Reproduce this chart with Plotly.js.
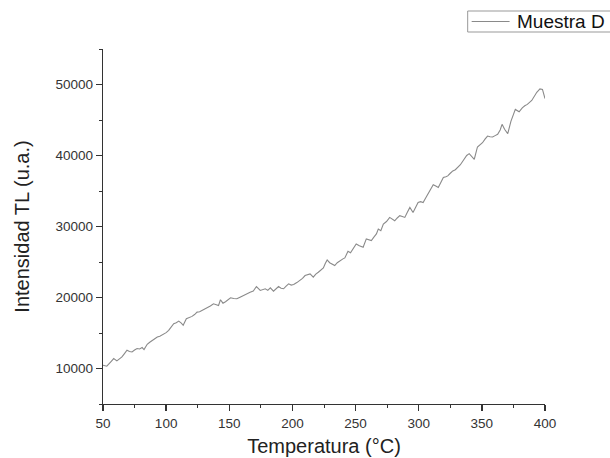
<!DOCTYPE html>
<html>
<head>
<meta charset="utf-8">
<script src="https://cdn.plot.ly/plotly-3.0.1.min.js"></script>
<style>html,body{margin:0;padding:0;background:#fff;}#chart{width:610px;height:458px;}</style>
</head>
<body>
<div id="chart"></div>
<script>
var seriesName = "Muestra D";
var temperatura = [50,53,56,58.5,61,63,65,67,69,71,73,75,77,79,81,82.5,85,87,89,91,93,95,98,100,102,104,106,108,110,112,113.5,116,118,120.5,122.5,124.5,126.5,128.5,130.5,132.5,135,137.5,139.5,141.5,143,145,147,149.5,151,153.5,156,158.5,161,164,166.5,169,171.5,174.5,176.5,178.5,180.5,182.5,185,187,189,191,193,195,197,199,201,203.5,206,208,210,212,214,216.5,218.5,220.5,222.5,224.5,226,227.5,229.5,231,233.5,235.5,237.5,240,241.5,244,246,248,250.5,253,256,258.5,260.5,262.5,264.5,266.5,268,270,272,274.5,277,279,281,283,285,287,289,291,293,295.5,297.5,299.5,301.5,303.5,305.5,307.5,309.5,311.5,313.5,315.5,317.5,319.5,321.5,323,325,327,329,331,333,335,336.5,338,340,342,344,346.5,348.5,350.5,352.5,354.5,356.5,358.5,360.5,362.5,364.5,366,368,370.5,373,376.5,379.5,382,384,386,389.5,391.5,393.5,396,398,400];
var intensidad = [10460,10320,10900,11400,11070,11300,11630,12100,12570,12400,12330,12600,12810,12750,12950,12660,13410,13700,13970,14200,14440,14550,14810,15050,15380,15800,16310,16450,16680,16400,16080,17020,17150,17340,17600,17940,18000,18180,18400,18650,18800,19120,19000,18880,19680,19200,19400,19680,19960,19850,19820,20050,20290,20500,20750,20900,21550,20990,21150,21230,21000,21370,20890,21200,21550,21300,21230,21600,21930,21750,21830,22100,22390,22700,23090,23200,23330,22860,23300,23560,23900,24170,24800,25300,24900,24740,24500,24900,25200,25440,25580,26500,26300,26840,27540,27300,27070,28250,28100,28010,28500,28950,29650,29410,30350,30700,31280,31000,30810,31200,31520,31400,31280,32000,32680,31980,32700,33380,33500,33380,34000,34560,35200,35870,35700,35490,36200,36890,37000,37130,37500,37830,38000,38290,38700,39230,39700,40000,40260,39900,39470,41200,41500,41800,42300,42740,42650,42600,42800,42980,43600,44390,43700,43070,44800,46490,46150,46720,47000,47200,47750,48300,48900,49380,49300,48030];
var xTicks = [50,100,150,200,250,300,350,400];
var yTicks = [10000,20000,30000,40000,50000];

var font = "Liberation Sans, Arial, sans-serif";
var lineColor = "#8a8a8a";
var trace = {
  x: temperatura, y: intensidad, type: "scatter", mode: "lines", name: seriesName,
  line: {color: lineColor, width: 1.1}
};
var axisCommon = {
  showline: true, linecolor: "#333", linewidth: 1.3, showgrid: false, zeroline: false,
  ticks: "outside", ticklen: 6, tickwidth: 1.3, tickcolor: "#333",
  tickfont: {family: font, size: 13.5, color: "#333"}, tickformat: "d"
};
// plot area in pixels: left 102.5, right 545.5, top 49, bottom 404
function px2x(p) { return (p - 102.5) / 443; }
function px2y(p) { return (404 - p) / 355; }
var layout = {
  width: 610, height: 458,
  margin: {l: 102.5, r: 64.5, t: 49, b: 54},
  paper_bgcolor: "#fff", plot_bgcolor: "#fff",
  showlegend: false,
  xaxis: Object.assign({}, axisCommon, {
    range: [50, 400], tickvals: xTicks,
    minor: {dtick: 25, tick0: 0, ticks: "outside", ticklen: 3, tickcolor: "#333", tickwidth: 1},
    title: {text: "Temperatura (°C)", font: {family: font, size: 20, color: "#222"}, standoff: 9}
  }),
  yaxis: Object.assign({}, axisCommon, {
    range: [5000, 55000], tickvals: yTicks,
    minor: {dtick: 5000, tick0: 0, ticks: "outside", ticklen: 3, tickcolor: "#333", tickwidth: 1},
    title: {text: "Intensidad TL (u.a.)", font: {family: font, size: 20, color: "#222"}, standoff: 20}
  }),
  shapes: [
    {type: "rect", xref: "paper", yref: "paper", x0: px2x(468), x1: px2x(616), y0: px2y(32), y1: px2y(11),
     line: {color: "#999", width: 1}, fillcolor: "#fff", layer: "above"},
    {type: "line", xref: "paper", yref: "paper", x0: px2x(472), x1: px2x(510), y0: px2y(21.5), y1: px2y(21.5),
     line: {color: lineColor, width: 1.1}, layer: "above"}
  ],
  annotations: [
    {xref: "paper", yref: "paper", x: px2x(515), y: px2y(21.5), xanchor: "left", yanchor: "middle",
     text: seriesName, showarrow: false, font: {family: font, size: 19, color: "#111"}}
  ]
};
Plotly.newPlot("chart", [trace], layout, {displayModeBar: false, staticPlot: true});
</script>
</body>
</html>
